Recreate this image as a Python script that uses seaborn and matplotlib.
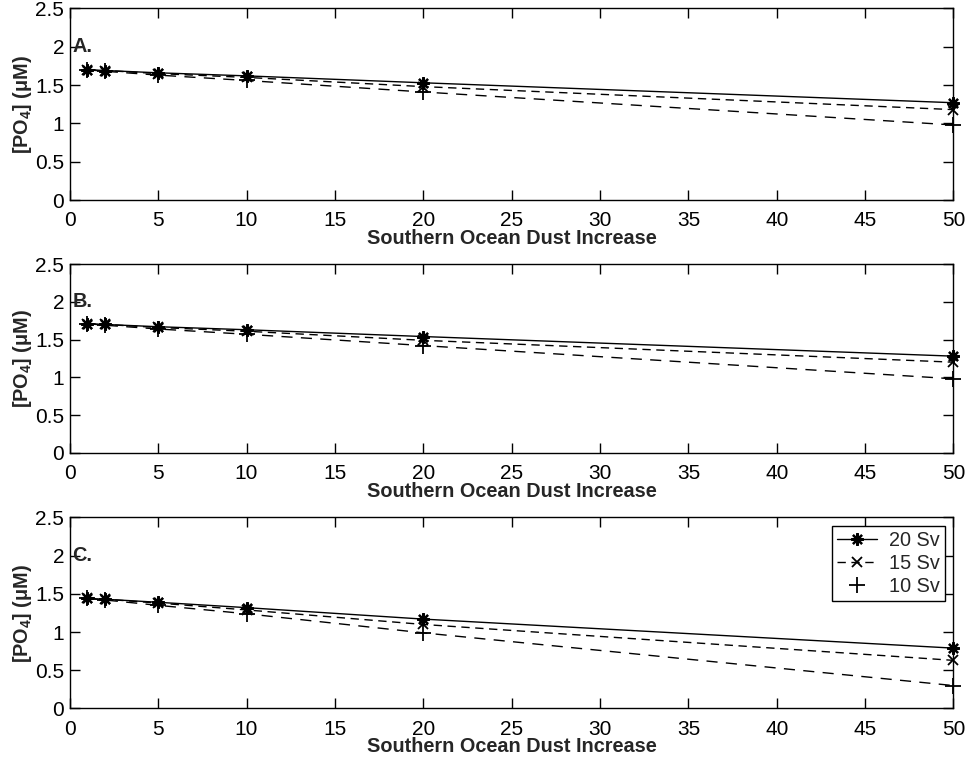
import matplotlib
matplotlib.use("Agg")
import matplotlib.pyplot as plt
from matplotlib.lines import Line2D
import numpy as np
import pandas as pd
import seaborn as sns

sns.set_theme(style="ticks")
plt.rcParams["font.family"] = ["Liberation Sans", "DejaVu Sans"]
plt.rcParams["mathtext.fontset"] = "custom"
plt.rcParams["mathtext.bf"] = "Liberation Sans:bold"
plt.rcParams["mathtext.rm"] = "Liberation Sans"

# Dust increase factors (x values)
dust = [1, 2, 5, 10, 20, 50]

# [PO4] (uM) for each overturning strength, panels A, B, C
a_20sv = [1.70, 1.69, 1.66, 1.62, 1.53, 1.27]
a_15sv = [1.70, 1.69, 1.65, 1.60, 1.48, 1.18]
a_10sv = [1.70, 1.68, 1.63, 1.56, 1.41, 0.98]

b_20sv = [1.71, 1.70, 1.67, 1.63, 1.54, 1.28]
b_15sv = [1.71, 1.70, 1.66, 1.61, 1.49, 1.20]
b_10sv = [1.71, 1.69, 1.64, 1.57, 1.42, 0.98]

c_20sv = [1.44, 1.43, 1.39, 1.32, 1.17, 0.79]
c_15sv = [1.44, 1.43, 1.38, 1.29, 1.10, 0.63]
c_10sv = [1.44, 1.42, 1.35, 1.24, 0.99, 0.30]

panels = ["A.", "B.", "C."]
series_labels = ["20 Sv", "15 Sv", "10 Sv"]
panel_data = [
    [a_20sv, a_15sv, a_10sv],
    [b_20sv, b_15sv, b_10sv],
    [c_20sv, c_15sv, c_10sv],
]

x_ticks = [0, 5, 10, 15, 20, 25, 30, 35, 40, 45, 50]
y_ticks = [0, 0.5, 1, 1.5, 2, 2.5]
y_ticklabels = ["0", "0.5", "1", "1.5", "2", "2.5"]

asterisk = (8, 2, 0)
styles = [
    dict(marker=asterisk, linestyle="-", markersize=9, markeredgewidth=1.6),
    dict(marker="x", linestyle=(0, (6, 4)), markersize=7.5, markeredgewidth=1.3),
    dict(marker="+", linestyle=(0, (8, 6)), markersize=11, markeredgewidth=1.3),
]

fig = plt.figure(figsize=(9.69, 7.61), dpi=100)
positions = [
    [0.072, 0.737, 0.912, 0.252],
    [0.072, 0.405, 0.912, 0.248],
    [0.072, 0.069, 0.912, 0.251],
]

for i, (label, series) in enumerate(zip(panels, panel_data)):
    ax = fig.add_axes(positions[i])
    for name, vals, st in zip(series_labels, series, styles):
        df = pd.DataFrame({"dust": dust, "po4": vals})
        sns.lineplot(data=df, x="dust", y="po4", ax=ax, color="black",
                     linewidth=1.0, legend=False, markeredgecolor="black",
                     markerfacecolor="black", clip_on=False, **st)
    ax.set_xlim(0, 50)
    ax.set_ylim(0, 2.5)
    ax.set_xticks(x_ticks)
    ax.set_xticklabels([str(t) for t in x_ticks])
    ax.set_yticks(y_ticks)
    ax.set_yticklabels(y_ticklabels)
    ax.tick_params(direction="in", length=7, width=1, top=True, right=True,
                   labelsize=15, colors="black")
    ax.tick_params(axis="x", pad=8)
    ax.tick_params(axis="y", pad=4)
    for sp in ax.spines.values():
        sp.set_visible(True)
        sp.set_color("black")
        sp.set_linewidth(1.0)
    ax.set_xlabel("Southern Ocean Dust Increase", fontsize=14.3,
                  fontweight="bold", labelpad=-1)
    ax.set_ylabel("[PO$_\\mathbf{4}$] (μM)", fontsize=14.3,
                  fontweight="bold", labelpad=1)
    ax.text(0.15, 2.0, label, fontsize=14.3, fontweight="bold",
            ha="left", va="center")

    if i == 2:
        handles = [
            Line2D([], [], color="black", linewidth=1.0, **styles[0]),
            Line2D([], [], color="black", linewidth=1.0, **styles[1]),
            Line2D([], [], color="black", linestyle="none",
                   marker="+", markersize=11, markeredgewidth=1.3),
        ]
        leg = ax.legend(handles, series_labels, loc="upper right",
                        fontsize=14.3, frameon=True, fancybox=False,
                        edgecolor="black", framealpha=1, borderpad=0.25,
                        handlelength=2.0, handletextpad=0.6,
                        labelspacing=0.2, borderaxespad=0.45)
        leg.get_frame().set_linewidth(1.0)

fig.savefig("out.png", dpi=100, facecolor="white")
